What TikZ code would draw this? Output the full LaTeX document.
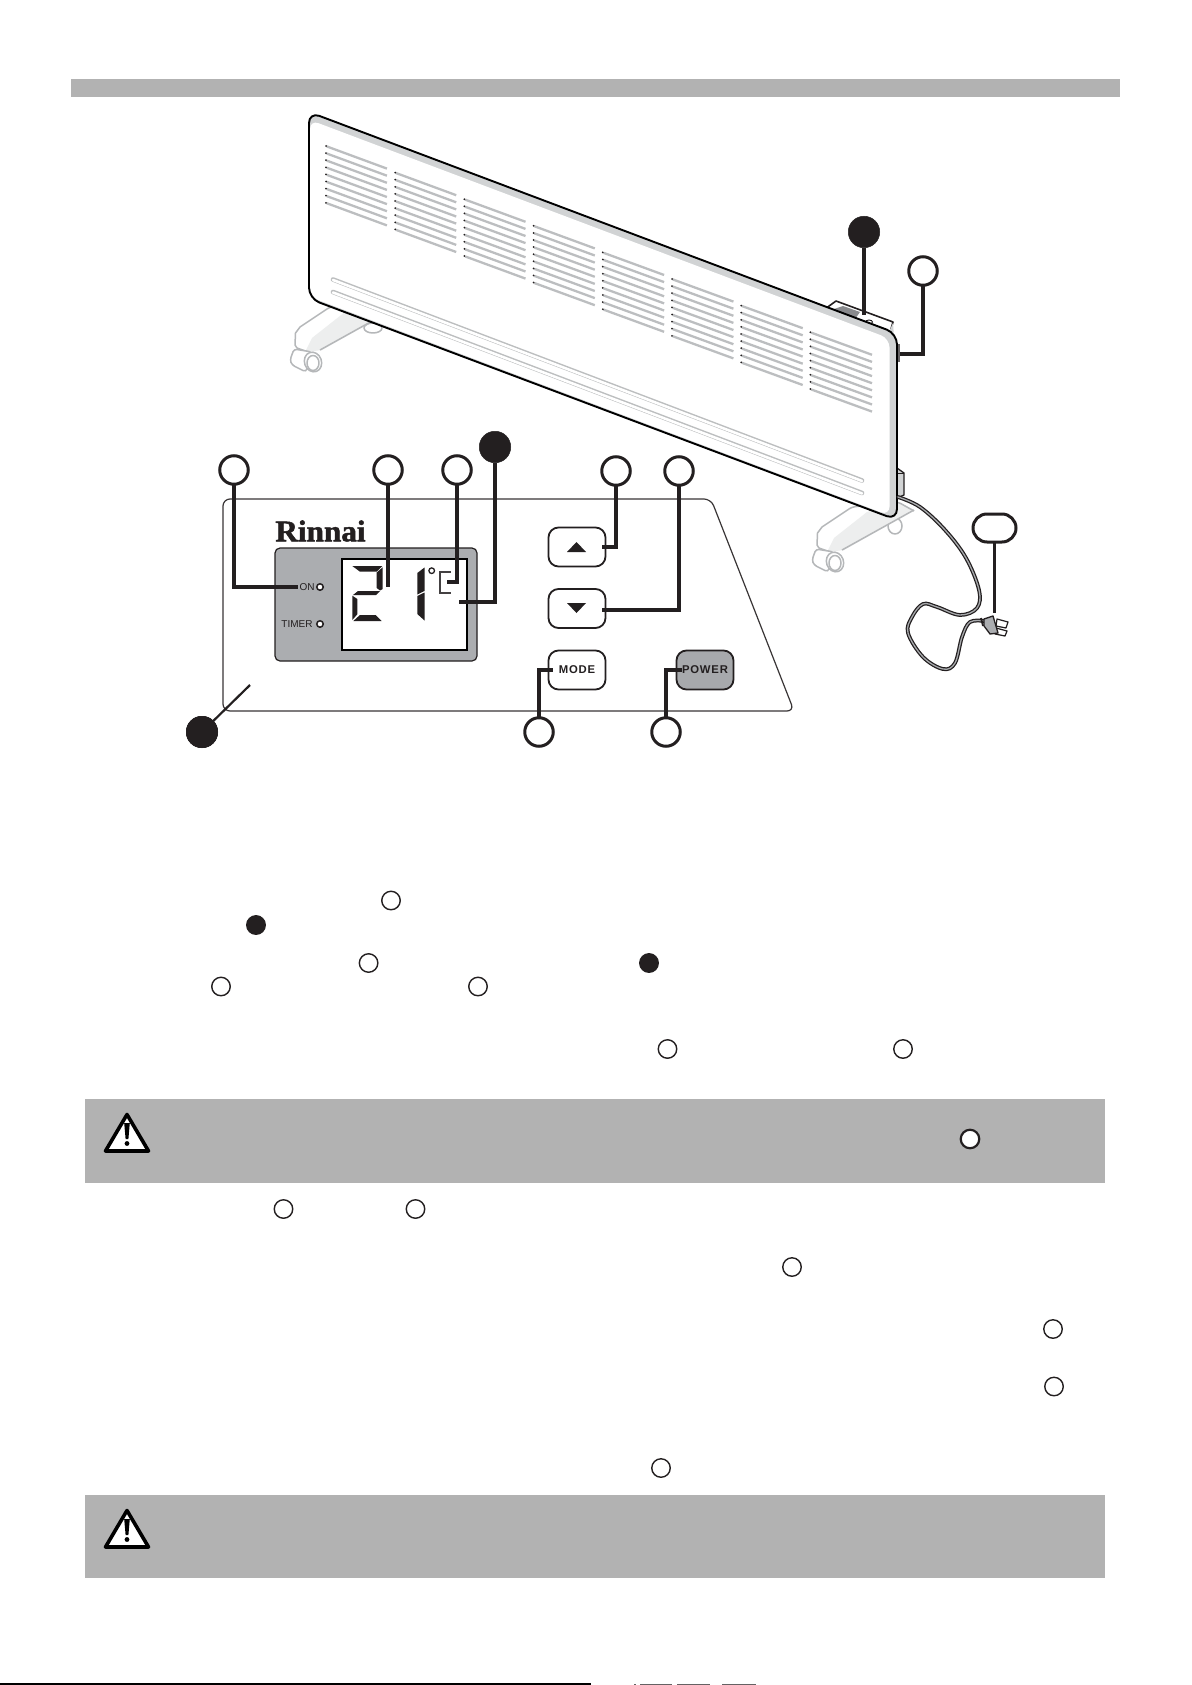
\documentclass[tikz,border=0pt]{standalone}
\usepackage{fontspec}
\setmainfont{Liberation Sans}
\newfontfamily\serifb[BoldFeatures={FakeBold=1.6,FakeStretch=1.04}]{Liberation Serif}
\newfontfamily\btnfont[LetterSpace=7]{Liberation Sans}
\definecolor{ink}{HTML}{231F20}
\definecolor{bar}{HTML}{B2B2B2}
\definecolor{band}{HTML}{D1D3D4}
\definecolor{vent}{HTML}{BCBEC0}
\definecolor{legc}{HTML}{B5B7B9}
\definecolor{legf}{HTML}{EDEEEE}
\definecolor{lcdg}{HTML}{ABADB0}
\definecolor{btng}{HTML}{A7A9AC}
\tikzset{
  x=1pt,y=-1pt,
  wc/.style={circle,draw=ink,fill=white,line width=3pt,minimum size=28.5pt,inner sep=0pt,outer sep=0pt},
  bc/.style={circle,fill=ink,draw=ink,line width=0.5pt,minimum size=31.5pt,inner sep=0pt,outer sep=0pt},
  tc/.style={circle,draw=ink,fill=white,line width=1.4pt,minimum size=18.5pt,inner sep=0pt,outer sep=0pt},
  tbc/.style={circle,draw=ink,fill=ink,line width=1.4pt,minimum size=18.5pt,inner sep=0pt,outer sep=0pt},
  lead/.style={draw=ink,line width=3.1pt,line join=miter},
  btn/.style={rectangle,rounded corners=10pt,draw=ink,line width=1.8pt,fill=white,minimum width=57pt,minimum height=39pt,inner sep=0pt},
  led/.style={circle,draw=ink,fill=white,line width=1.5pt,minimum size=6.5pt,inner sep=0pt},
  seg/.style={fill=ink,draw=none},
  legline/.style={draw=legc,line width=1.5pt,line join=round},
}
\newcommand{\heaterleg}{%
  \fill[legf] (345,312) -- (312,338) -- (305,352) -- (306,352) -- (322,350) -- (392,310) -- (376,303) -- cycle;
  \draw[legline] (392,311) [rounded corners=3pt] -- (376,302) -- (330,307) [sharp corners] -- (300,327) -- (295.5,333) -- (295,345) -- (297,348) -- (308,352);
  \draw[legline] (320,350) -- (392,310);
  \draw[legline,fill=white,rounded corners=3pt] (294,349) -- (290,360) -- (292,365) -- (306,372) -- (312,352) -- cycle;
  \draw[legline,fill=white,rotate around={20:(313,362)}] (313,362) ellipse (8.5 and 10);
  \draw[legline,fill=white] (313,363) ellipse (6 and 7.5);
}
\newcommand{\warnsign}{%
  \draw[draw=black,fill=white,line width=3.6pt,line join=round] (127,1114.5) -- (148.5,1151) -- (105.5,1151) -- cycle;
  \fill[black] (124.2,1123) -- (129.8,1123) -- (128.4,1139) -- (125.6,1139) -- cycle;
  \fill[black] (127,1143.5) circle (2.4);
}
\begin{document}
\begin{tikzpicture}
\useasboundingbox (0,0) rectangle (1191,1685);
\fill[white] (0,0) rectangle (1191,1685);
% header bar
\fill[bar] (71,79) rectangle (1120,97);

% legs
\begin{scope}
  \draw[legline,fill=white] (373,328) ellipse (9 and 5);
  \heaterleg
\end{scope}
\begin{scope}[shift={(522,200)}]
  \draw[legline,fill=white] (373,326) ellipse (7 and 8);
  \heaterleg
\end{scope}

% top control box
\draw[ink,line width=1.6pt,fill=white,line join=round] (825,309) -- (836,301) -- (893,322) -- (889,336) -- cycle;
\fill[lcdg!80!black] (831,310) -- (843,306) -- (860,312) -- (855,319) -- cycle;
\draw[ink,line width=0.9pt] (869,322) ellipse (3.5 and 2);
\fill[band] (893,323) -- (888,334) -- (894,337) -- cycle;
% side knob
\fill[ink!70] (896,344) rectangle (900,362);
% wiring box
\draw[ink,line width=1.3pt,fill=band,line join=round] (897,468) -- (904,473) -- (904,495) -- (897,498) -- cycle;
\draw[ink,line width=1pt] (897,473) -- (904,473);

% heater panel
\fill[band,rounded corners=11pt] (309,112) -- (897,333.5) -- (897,520) -- (309,298.6) -- cycle;
\fill[white,rounded corners=9pt] (310,120) -- (889.5,338.5) -- (889.5,515.5) -- (310,297) -- cycle;
\draw[black,line width=1.9pt,rounded corners=11pt] (309,112) -- (897,333.5) -- (897,520) -- (309,298.6) -- cycle;

% vents
\foreach \c in {0,...,7}{
  \foreach \l in {0,...,8}{
    \draw[vent,line width=2.3pt] ({326.7+\c*69.2},{146.4+\c*26.6+\l*7.1}) -- ({386.9+\c*69.3},{168.6+\c*26.6+\l*7.1});
    \fill[ink] ({326+\c*69.2},{146+\c*26.6+\l*7.1}) circle (1);
  }
}
% grooves
\foreach \yy in {0,12.5}{
  \draw[band!90!black,line width=4.6pt,line cap=round] (333,{279.5+\yy}) -- (862,{480.5+\yy});
  \draw[white,line width=2.6pt,line cap=round] (333,{280+\yy}) -- (862,{481+\yy});
}

% cord
\draw[ink,line width=3.8pt,line cap=round,line join=round] plot[smooth,tension=0.6] coordinates {(898,497) (920,507) (945,530) (966,558) (979,590) (977,608) (960,615) (937,607) (923,604) (912,617) (908,633) (923,657) (943,669) (955,663) (962,637) (970,622) (984,621)};
\draw[btng,line width=1.3pt,line cap=round,line join=round] plot[smooth,tension=0.6] coordinates {(898,497) (920,507) (945,530) (966,558) (979,590) (977,608) (960,615) (937,607) (923,604) (912,617) (908,633) (923,657) (943,669) (955,663) (962,637) (970,622) (984,621)};
% plug
\draw[ink,line width=1.2pt,fill=white,line join=round] (997,619) -- (1008,622) -- (1006,628) -- (996,626) -- cycle;
\draw[ink,line width=1.2pt,fill=white,line join=round] (996,628) -- (1007,631) -- (1005,636) -- (995,634) -- cycle;
\draw[ink,line width=1.3pt,fill=lcdg,line join=round] (984,619) -- (993,616) -- (998,633) -- (990,634) -- (984,626) -- cycle;
\draw[ink,line width=1.8pt] (981,618) -- (983,626);

% control panel outline
\draw[ink!90,line width=1.2pt,rounded corners=7pt] (223,499) -- (711,499) -- (794,711) -- (223,711) -- cycle;

% logo
\node[font={\serifb\bfseries\fontsize{30}{30}\selectfont},text=ink,inner sep=0pt] (logo) at (320.5,531) {Rinnai};

% display
\node[draw=ink,fill=lcdg,line width=1.2pt,rounded corners=5pt,minimum width=202pt,minimum height=113pt,inner sep=0pt] (disp) at (376,604.5) {};
\node[draw=black,fill=white,line width=1.3pt,minimum width=125pt,minimum height=91pt,inner sep=0pt] (lcd) at (404.5,604.5) {};

% digit 2
\fill[seg] (352.3,566) -- (382.3,566) -- (376.7,571.7) -- (360,571.7) -- cycle;
\fill[seg] (382.7,567.3) -- (382.7,589) -- (380,590.5) -- (376.7,588) -- (376.7,572.5) -- cycle;
\fill[seg] (353,595) -- (358,591) -- (380,591) -- (376,595) -- cycle;
\fill[seg] (352.3,595.7) -- (357.3,599) -- (357.3,614.3) -- (352.3,620) -- cycle;
\fill[seg] (353.3,621) -- (360,615) -- (375.7,615) -- (381.7,621) -- cycle;
% digit 1
\fill[seg] (417.3,573) -- (424.5,567.5) -- (424.5,591) -- (417.3,594.5) -- cycle;
\fill[seg] (417.3,596) -- (424.5,592.5) -- (424.5,620.5) -- (417.3,614) -- cycle;
% degree and C
\draw[ink,line width=1.3pt] (431.7,570.7) circle (2.8);
\draw[ink!85,line width=2pt] (451,571.5) -- (440,571.5) -- (440,592.5) -- (451,592.5);

% LEDs
\node[font=\fontsize{10}{10}\selectfont,text=ink,inner sep=0pt] (ontx) at (307,587.5) {ON};
\node[font=\fontsize{10}{10}\selectfont,text=ink,inner sep=0pt] (timertx) at (297,624) {TIMER};
\node[led] (onled) at (320,587) {};
\node[led] (timerled) at (320,624) {};

% buttons
\node[btn] (up) at (577,547) {};
\node[btn] (down) at (577,608.5) {};
\node[btn,font={\btnfont\bfseries\fontsize{11.3}{11.3}\selectfont},text=ink] (mode) at (577,670) {MODE};
\node[btn,fill=btng,font={\btnfont\bfseries\fontsize{11.3}{11.3}\selectfont},text=ink] (power) at (705,670) {POWER};
\fill[ink] (567,552) -- (586,552) -- (576.5,542) -- cycle;
\fill[ink] (567,603) -- (586,603) -- (576.5,613) -- cycle;

% callouts
\node[bc] (b1) at (864,232) {};
\node[wc] (w1) at (923,271) {};
\node[wc,rounded corners=14pt,rectangle,minimum width=43pt,minimum height=28pt] (pill) at (994.5,528) {};
\node[wc] (c1) at (234,470) {};
\node[wc] (c2) at (388,470) {};
\node[wc] (c3) at (457,470) {};
\node[bc] (b2) at (495,447) {};
\node[wc] (c4) at (616,471) {};
\node[wc] (c5) at (679,471) {};
\node[bc] (b3) at (202,732) {};
\node[wc] (c6) at (539,732) {};
\node[wc] (c7) at (666,732) {};

\coordinate (e1) at (864,315);
\coordinate (e2) at (900,354);
\coordinate (e3) at (994.5,613);
\coordinate (e4) at (298,587);
\coordinate (e5) at (388,587);
\coordinate (e6) at (447,582);
\coordinate (e7) at (459,602);
\coordinate (e8) at (602,547);
\coordinate (e9) at (602,610);
\coordinate (e10) at (250,685);
\coordinate (e11) at (553,670);
\coordinate (e12) at (682,670);

\draw[lead] (b1.south) -- (e1);
\draw[lead] (w1.south) |- (e2);
\draw[lead] (pill.south) -- (e3);
\draw[lead] (c1.south) |- (e4);
\draw[lead] (c2.south) -- (e5);
\draw[lead] (c3.south) |- (e6);
\draw[lead] (b2.south) |- (e7);
\draw[lead] (c4.south) |- (e8);
\draw[lead] (c5.south) |- (e9);
\draw[lead,line width=2.2pt] (b3) -- (e10);
\draw[lead] (c6.north) |- (e11);
\draw[lead] (c7.north) |- (e12);
\node[bc] at (b3) {};

% warning boxes
\fill[bar] (85,1099) rectangle (1105,1183);
\fill[bar] (85,1495) rectangle (1105,1578);
\warnsign
\begin{scope}[shift={(0,396)}]\warnsign\end{scope}

% inline reference circles
\node[tc] (t1) at (391,900.5) {};
\node[tbc] (t2) at (256,925) {};
\node[tc] (t3) at (368.6,963) {};
\node[tbc] (t4) at (649,963) {};
\node[tc] (t5) at (221,986.5) {};
\node[tc] (t6) at (478,986.5) {};
\node[tc] (t7) at (667.5,1049) {};
\node[tc] (t8) at (903,1049) {};
\node[tc,line width=2.2pt] (t9) at (970,1139) {};
\node[tc] (t10) at (283.5,1209) {};
\node[tc] (t11) at (415.5,1209) {};
\node[tc] (t12) at (792,1267) {};
\node[tc] (t13) at (1053,1329) {};
\node[tc] (t14) at (1054,1386.5) {};
\node[tc] (t15) at (661,1468) {};

% bottom edge marks
\fill[black] (0,1683) rectangle (591,1685);
\foreach \a/\b in {634/636,640/672,677/710,722/756}{
  \fill[ink!70] (\a,1683.5) rectangle (\b,1685);
}
\end{tikzpicture}
\end{document}
